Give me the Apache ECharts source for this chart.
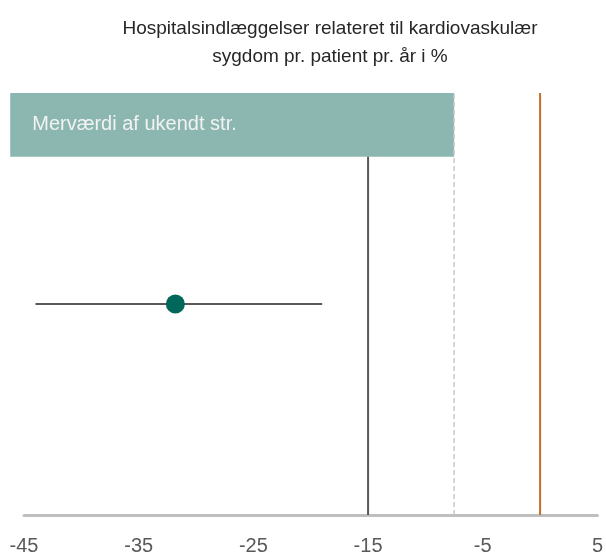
<!DOCTYPE html>
<html>
<head>
<meta charset="utf-8">
<script src="https://cdn.jsdelivr.net/npm/echarts@6/dist/echarts.min.js"></script>
<style>html,body{margin:0;padding:0;background:#fff;}#c{width:606px;height:556px;}</style>
</head>
<body>
<div id="c"></div>
<script>
// Data
var titleText = "Hospitalsindlæggelser relateret til kardiovaskulær\nsygdom pr. patient pr. år i %";
var xTicks = [-45, -35, -25, -15, -5, 5];
var estimate = [-31.8];           // point estimate
var ciLow = [-44];                // lower confidence limit
var ciHigh = [-19];               // upper confidence limit
var refLine = [-15];              // dark reference line
var thresholdLine = [-7.5];       // dashed threshold line
var zeroLine = [0];               // no-effect line
var boxLabel = ["Merværdi af ukendt str."];
var boxFrom = [-46.2];
var boxTo = [-7.5];
var rowY = [0.5];
var boxBottom = [0.849];

var chart = echarts.init(document.getElementById('c'), null, {renderer: 'canvas'});
var FONT = 'Liberation Sans';
chart.setOption({
  animation: false,
  title: {
    text: titleText,
    left: 325, top: 10,
    textAlign: 'center',
    textStyle: {fontFamily: FONT, fontSize: 19, fontWeight: 'normal', color: '#262626', lineHeight: 28}
  },
  grid: {left: 24, right: 7, top: 93, bottom: 40, containLabel: false},
  xAxis: {
    type: 'value', min: xTicks[0], max: xTicks[xTicks.length - 1], interval: 10,
    axisLine: {show: true, lineStyle: {color: '#bfbfbf', width: 3}},
    axisTick: {show: false},
    splitLine: {show: false},
    axisLabel: {fontFamily: FONT, fontSize: 20, color: '#595959', margin: 21,
      formatter: function (v) { return String(v); }}
  },
  yAxis: {type: 'value', min: 0, max: 1, show: false},
  series: [
    {
      type: 'custom', clip: false, z: 1,
      data: [[boxFrom[0], boxTo[0], boxBottom[0], 1]],
      renderItem: function (params, api) {
        var p1 = api.coord([api.value(0), api.value(3)]);
        var p2 = api.coord([api.value(1), api.value(2)]);
        return {
          type: 'group',
          children: [
            {type: 'rect', shape: {x: p1[0], y: p1[1], width: p2[0] - p1[0], height: p2[1] - p1[1]},
             style: {fill: '#8bb7b0'}},
            {type: 'text', style: {x: p1[0] + 22, y: (p1[1] + p2[1]) / 2, text: boxLabel[0],
              fill: '#f2f2f2', font: '20px "' + FONT + '"', textVerticalAlign: 'middle'}}
          ]
        };
      }
    },
    {type: 'line', z: 2, symbol: 'none', data: [[thresholdLine[0], 0], [thresholdLine[0], 1]],
     lineStyle: {color: '#c8c8c8', width: 1.5, type: [5, 3]}},
    {type: 'line', z: 2, symbol: 'none', data: [[refLine[0], 0], [refLine[0], boxBottom[0]]],
     lineStyle: {color: '#595959', width: 2}},
    {type: 'line', z: 2, symbol: 'none', data: [[zeroLine[0], 0], [zeroLine[0], 1]],
     lineStyle: {color: '#c0702a', width: 2}},
    {type: 'line', z: 3, symbol: 'none', data: [[ciLow[0], rowY[0]], [ciHigh[0], rowY[0]]],
     lineStyle: {color: '#595959', width: 2}},
    {type: 'scatter', z: 4, symbolSize: 19, data: [[estimate[0], rowY[0]]],
     itemStyle: {color: '#00675a', opacity: 1}}
  ]
});
</script>
</body>
</html>
